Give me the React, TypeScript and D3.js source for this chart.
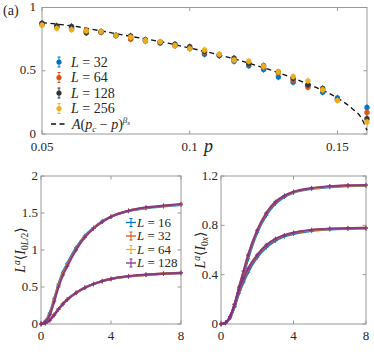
import React from "react";
import * as d3 from "d3";

// ---- panel (a): order parameter vs p ----
const pVals = [0.05, 0.055, 0.06, 0.065, 0.07, 0.075, 0.08, 0.085, 0.09, 0.095, 0.1,
  0.105, 0.11, 0.115, 0.12, 0.125, 0.13, 0.135, 0.14, 0.145, 0.15, 0.16];
const sizesTop = ["32", "64", "128", "256"];
const topL32 = [0.87, 0.85, 0.835, 0.81, 0.805, 0.78, 0.755, 0.74, 0.72, 0.7, 0.68, 0.63, 0.62, 0.575, 0.54, 0.51, 0.45, 0.41, 0.385, 0.33, 0.285, 0.21];
const topL64 = [0.865, 0.845, 0.83, 0.82, 0.805, 0.78, 0.75, 0.735, 0.725, 0.7, 0.675, 0.645, 0.625, 0.585, 0.555, 0.525, 0.485, 0.425, 0.37, 0.35, 0.27, 0.17];
const topL128 = [0.875, 0.855, 0.85, 0.8, 0.81, 0.78, 0.775, 0.745, 0.725, 0.71, 0.69, 0.655, 0.625, 0.6, 0.56, 0.54, 0.49, 0.44, 0.39, 0.36, 0.27, 0.12];
const topL256 = [0.86, 0.835, 0.825, 0.815, 0.81, 0.78, 0.765, 0.74, 0.73, 0.7, 0.675, 0.665, 0.63, 0.585, 0.575, 0.535, 0.49, 0.455, 0.42, 0.35, 0.265, 0.095];
const topColors = ["#0072BD", "#D95319", "#333333", "#EDB120"];
// fit curve
const fitP = [0.05, 0.06, 0.07, 0.08, 0.09, 0.1, 0.11, 0.12, 0.13, 0.14, 0.145, 0.15, 0.155, 0.158, 0.16];
const fitY = [0.88, 0.855, 0.815, 0.772, 0.73, 0.68, 0.625, 0.56, 0.485, 0.395, 0.345, 0.285, 0.2, 0.13, 0.03];

// ---- lower panels ----
const tVals = [0, 0.25, 0.5, 0.75, 1, 1.25, 1.5, 2, 2.5, 3, 3.5, 4, 5, 6, 7, 8];
const sizesBot = ["16", "32", "64", "128"];
const botColors = ["#0072BD", "#D95319", "#EDB120", "#7E2F8E"];
// left panel, upper / lower branch
const leftUp16 = [0, 0.04, 0.15, 0.34, 0.54, 0.7, 0.82, 1.03, 1.19, 1.3, 1.39, 1.45, 1.525, 1.565, 1.59, 1.61];
const leftUp32 = [0, 0.035, 0.13, 0.32, 0.52, 0.68, 0.8, 1.01, 1.18, 1.295, 1.385, 1.45, 1.53, 1.57, 1.595, 1.615];
const leftUp64 = [0, 0.03, 0.125, 0.31, 0.51, 0.67, 0.79, 1.0, 1.17, 1.29, 1.38, 1.45, 1.53, 1.572, 1.598, 1.618];
const leftUp128 = [0, 0.03, 0.12, 0.3, 0.5, 0.66, 0.78, 1.0, 1.17, 1.29, 1.38, 1.45, 1.53, 1.575, 1.6, 1.622];
const leftLo16 = [0, 0.012, 0.055, 0.125, 0.2, 0.27, 0.33, 0.42, 0.49, 0.54, 0.578, 0.607, 0.643, 0.663, 0.678, 0.688];
const leftLo32 = [0, 0.011, 0.052, 0.122, 0.2, 0.27, 0.33, 0.42, 0.49, 0.54, 0.58, 0.608, 0.645, 0.665, 0.68, 0.69];
const leftLo64 = [0, 0.01, 0.05, 0.12, 0.2, 0.27, 0.33, 0.42, 0.49, 0.54, 0.58, 0.61, 0.645, 0.665, 0.68, 0.69];
const leftLo128 = [0, 0.01, 0.05, 0.12, 0.2, 0.27, 0.33, 0.42, 0.49, 0.54, 0.58, 0.61, 0.646, 0.666, 0.681, 0.692];
// right panel, upper / lower branch
const rightUp16 = [0, 0.008, 0.05, 0.14, 0.27, 0.4, 0.53, 0.74, 0.88, 0.975, 1.03, 1.065, 1.095, 1.11, 1.118, 1.122];
const rightUp32 = [0, 0.01, 0.058, 0.155, 0.295, 0.425, 0.555, 0.755, 0.895, 0.985, 1.038, 1.07, 1.1, 1.115, 1.122, 1.125];
const rightUp64 = [0, 0.01, 0.06, 0.16, 0.3, 0.43, 0.56, 0.76, 0.9, 0.99, 1.04, 1.07, 1.1, 1.116, 1.123, 1.126];
const rightUp128 = [0, 0.01, 0.06, 0.16, 0.3, 0.43, 0.56, 0.76, 0.9, 0.99, 1.04, 1.072, 1.102, 1.117, 1.124, 1.127];
const rightLo16 = [0, 0.008, 0.05, 0.14, 0.25, 0.34, 0.42, 0.54, 0.62, 0.675, 0.71, 0.73, 0.755, 0.767, 0.772, 0.775];
const rightLo32 = [0, 0.01, 0.058, 0.155, 0.27, 0.36, 0.44, 0.555, 0.635, 0.685, 0.717, 0.738, 0.76, 0.77, 0.775, 0.778];
const rightLo64 = [0, 0.01, 0.06, 0.16, 0.28, 0.37, 0.45, 0.56, 0.64, 0.69, 0.72, 0.74, 0.762, 0.772, 0.777, 0.779];
const rightLo128 = [0, 0.01, 0.06, 0.16, 0.28, 0.37, 0.45, 0.56, 0.64, 0.69, 0.72, 0.741, 0.763, 0.773, 0.778, 0.78];

const FONT = "'Times New Roman', Tinos, 'Liberation Serif', 'DejaVu Serif', serif";
const AX = "#999";
const TXT = "#262626";

type Frame = { x0: number; x1: number; y0: number; y1: number };

function Box({ f, x, y, xt, yt }: { f: Frame; x: any; y: any; xt: number[]; yt: number[] }) {
  const tk = 3.5;
  return (
    <g>
      <rect x={f.x0} y={f.y0} width={f.x1 - f.x0} height={f.y1 - f.y0} fill="none" stroke={AX} strokeWidth={1} />
      {xt.map((v) => (
        <g key={"x" + v}>
          <line x1={x(v)} x2={x(v)} y1={f.y1} y2={f.y1 - tk} stroke={AX} />
          <line x1={x(v)} x2={x(v)} y1={f.y0} y2={f.y0 + tk} stroke={AX} />
        </g>
      ))}
      {yt.map((v) => (
        <g key={"y" + v}>
          <line x1={f.x0} x2={f.x0 + tk} y1={y(v)} y2={y(v)} stroke={AX} />
          <line x1={f.x1} x2={f.x1 - tk} y1={y(v)} y2={y(v)} stroke={AX} />
        </g>
      ))}
    </g>
  );
}

export default function App() {
  // panel (a)
  const fa: Frame = { x0: 42, x1: 367, y0: 7.5, y1: 134 };
  const xa = d3.scaleLinear().domain([0.05, 0.16]).range([fa.x0, fa.x1]);
  const ya = d3.scaleLinear().domain([0, 1]).range([fa.y1, fa.y0]);
  const topSeries = [topL32, topL64, topL128, topL256];
  const fitLine = d3.line<number>().x((d, i) => xa(fitP[i])).y((d) => ya(d)).curve(d3.curveMonotoneX);

  // lower panels
  const fl: Frame = { x0: 41, x1: 181, y0: 176, y1: 324 };
  const fr: Frame = { x0: 221, x1: 366, y0: 176, y1: 324 };
  const xl = d3.scaleLinear().domain([0, 8]).range([fl.x0, fl.x1]);
  const yl = d3.scaleLinear().domain([0, 2]).range([fl.y1, fl.y0]);
  const xr = d3.scaleLinear().domain([0, 8]).range([fr.x0, fr.x1]);
  const yr = d3.scaleLinear().domain([0, 1.2]).range([fr.y1, fr.y0]);
  const leftSeries = [[leftUp16, leftLo16], [leftUp32, leftLo32], [leftUp64, leftLo64], [leftUp128, leftLo128]];
  const rightSeries = [[rightUp16, rightLo16], [rightUp32, rightLo32], [rightUp64, rightLo64], [rightUp128, rightLo128]];

  const curve = (xs: any, ys: any) =>
    d3.line<number>().x((d, i) => xs(tVals[i])).y((d) => ys(d)).curve(d3.curveMonotoneX);

  const drawBranches = (series: number[][][], xs: any, ys: any) =>
    series.map((branches, si) => (
      <g key={si} stroke={botColors[si]} fill="none">
        {branches.map((vals, bi) => (
          <g key={bi}>
            <path d={curve(xs, ys)(vals) || ""} strokeWidth={2.2} strokeOpacity={0.9} />
            {vals.map((v, i) => (
              <g key={i} strokeWidth={0.9}>
                <line x1={xs(tVals[i])} x2={xs(tVals[i])} y1={ys(v) - 2.2} y2={ys(v) + 2.2} />
                <line x1={xs(tVals[i]) - 2} x2={xs(tVals[i]) + 2} y1={ys(v)} y2={ys(v)} />
              </g>
            ))}
          </g>
        ))}
      </g>
    ));

  const T = (p: any) => <text fontFamily={FONT} fill={TXT} {...p} />;

  return (
    <svg width={374} height={355} style={{ position: "absolute", left: 0, top: 0 }}>
      <rect width={374} height={355} fill="#fff" />
      {/* ---------- panel (a) ---------- */}
      <T x={3} y={15} fontSize={14}>(a)</T>
      <Box f={fa} x={xa} y={ya} xt={[0.05, 0.1, 0.15]} yt={[0, 0.5, 1]} />
      {[0, 0.5, 1].map((v) => (
        <T key={v} x={fa.x0 - 6} y={ya(v) + 3.5} textAnchor="end" fontSize={13}>{v}</T>
      ))}
      {[0.05, 0.1, 0.15].map((v) => (
        <T key={v} x={xa(v)} y={151} textAnchor="middle" fontSize={13}>{v}</T>
      ))}
      <T x={204} y={152} fontSize={18} fontStyle="italic">p</T>
      <path d={fitLine(fitY) || ""} fill="none" stroke="#111" strokeWidth={1.3} strokeDasharray="5,3.5" />
      {topSeries.map((vals, si) => (
        <g key={si} fill={topColors[si]} stroke={topColors[si]}>
          {vals.map((v, i) => (
            <g key={i}>
              <line x1={xa(pVals[i])} x2={xa(pVals[i])} y1={ya(v) - 3.2} y2={ya(v) + 3.2} strokeWidth={0.9} />
              <circle cx={xa(pVals[i])} cy={ya(v)} r={2.7} stroke="none" fillOpacity={0.95} />
            </g>
          ))}
        </g>
      ))}
      {/* legend (a) */}
      {sizesTop.map((s, i) => {
        const cy = 62 + i * 15.5;
        return (
          <g key={s}>
            <g stroke={topColors[i]} fill={topColors[i]}>
              <line x1={59} x2={59} y1={cy - 5} y2={cy + 5} strokeWidth={1} />
              <line x1={57.5} x2={60.5} y1={cy - 5} y2={cy - 5} />
              <line x1={57.5} x2={60.5} y1={cy + 5} y2={cy + 5} />
              <circle cx={59} cy={cy} r={2.6} stroke="none" />
            </g>
            <T x={71} y={cy + 4.5} fontSize={14}>
              <tspan fontStyle="italic">L</tspan> = {s}
            </T>
          </g>
        );
      })}
      <line x1={51} x2={67} y1={124} y2={124} stroke="#111" strokeWidth={1.3} strokeDasharray="5,3.5" />
      <T x={72} y={128.5} fontSize={14}>
        <tspan fontStyle="italic">A</tspan>(<tspan fontStyle="italic">p</tspan>
        <tspan fontSize={9} dy={3} fontStyle="italic">c</tspan>
        <tspan dy={-3}> − </tspan><tspan fontStyle="italic">p</tspan>)
        <tspan fontSize={9} dy={-6} fontStyle="italic">β</tspan>
        <tspan fontSize={7} dy={2} fontStyle="italic">s</tspan>
      </T>

      {/* ---------- lower left ---------- */}
      <Box f={fl} x={xl} y={yl} xt={[0, 4, 8]} yt={[0, 0.5, 1, 1.5, 2]} />
      {[0, 0.5, 1, 1.5, 2].map((v) => (
        <T key={v} x={fl.x0 - 3} y={yl(v) + 4} textAnchor="end" fontSize={13}>{v}</T>
      ))}
      {[0, 4, 8].map((v) => (
        <T key={v} x={xl(v)} y={340} textAnchor="middle" fontSize={13}>{v}</T>
      ))}
      <g>{drawBranches(leftSeries, xl, yl)}</g>
      <T transform="translate(25,250) rotate(-90)" textAnchor="middle" fontSize={14}>
        <tspan fontStyle="italic">L</tspan>
        <tspan fontSize={9.5} dy={-5} fontStyle="italic">a</tspan>
        <tspan dy={5}>⟨</tspan><tspan fontStyle="italic">I</tspan>
        <tspan fontSize={9.5} dy={3}>0<tspan fontStyle="italic">L</tspan>/2</tspan>
        <tspan dy={-3}>⟩</tspan>
      </T>
      {sizesBot.map((s, i) => {
        const cy = 222.5 + i * 13.5;
        return (
          <g key={s}>
            <g stroke={botColors[i]} strokeWidth={1.3}>
              <line x1={126} x2={136} y1={cy} y2={cy} />
              <line x1={131} x2={131} y1={cy - 4} y2={cy + 4} strokeWidth={1} />
              <line x1={129.5} x2={132.5} y1={cy - 4} y2={cy - 4} strokeWidth={1} />
              <line x1={129.5} x2={132.5} y1={cy + 4} y2={cy + 4} strokeWidth={1} />
            </g>
            <T x={137} y={cy + 4.2} fontSize={13}>
              <tspan fontStyle="italic">L</tspan> = {s}
            </T>
          </g>
        );
      })}

      {/* ---------- lower right ---------- */}
      <Box f={fr} x={xr} y={yr} xt={[0, 4, 8]} yt={[0, 0.4, 0.8, 1.2]} />
      {[0, 0.4, 0.8, 1.2].map((v) => (
        <T key={v} x={fr.x0 - 3} y={yr(v) + 4} textAnchor="end" fontSize={13}>{v}</T>
      ))}
      {[0, 4, 8].map((v) => (
        <T key={v} x={xr(v)} y={340} textAnchor="middle" fontSize={13}>{v}</T>
      ))}
      <g>{drawBranches(rightSeries, xr, yr)}</g>
      <T transform="translate(205,250) rotate(-90)" textAnchor="middle" fontSize={14}>
        <tspan fontStyle="italic">L</tspan>
        <tspan fontSize={9.5} dy={-5} fontStyle="italic">a</tspan>
        <tspan dy={5}>⟨</tspan><tspan fontStyle="italic">I</tspan>
        <tspan fontSize={9.5} dy={3}>0<tspan fontStyle="italic">x</tspan></tspan>
        <tspan dy={-3}>⟩</tspan>
      </T>
    </svg>
  );
}
